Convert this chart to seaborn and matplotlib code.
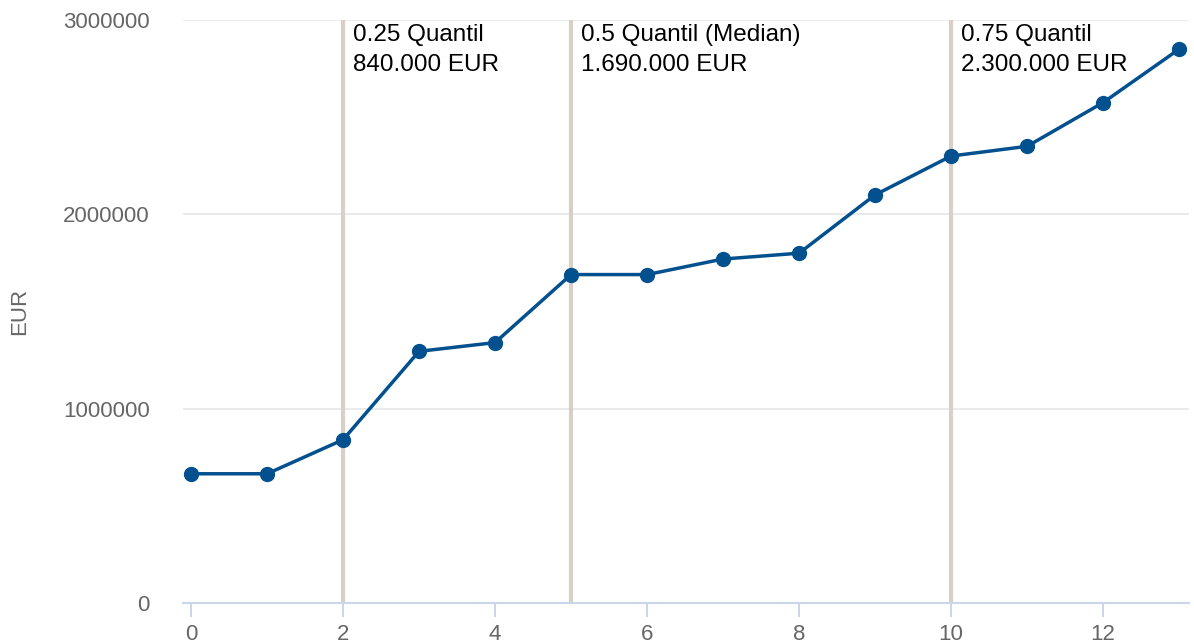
import matplotlib
matplotlib.use("Agg")
import matplotlib.pyplot as plt
import seaborn as sns
import pandas as pd

# data
rank = list(range(14))
eur = [665000, 665000, 840000, 1295000, 1340000, 1690000, 1690000,
       1770000, 1800000, 2100000, 2300000, 2350000, 2575000, 2850000]
q_pos = [2, 5, 10]
q_labels = ["0.25 Quantil\n840.000 EUR",
            "0.5 Quantil (Median)\n1.690.000 EUR",
            "0.75 Quantil\n2.300.000 EUR"]
y_ticks = [0, 1000000, 2000000, 3000000]
x_ticks = [0, 2, 4, 6, 8, 10, 12]

df = pd.DataFrame({"rank": rank, "eur": eur})

sns.set_style("white")
plt.rcParams["font.family"] = ["Liberation Sans", "DejaVu Sans"]

fig = plt.figure(figsize=(11.94, 6.43), dpi=100)
ax = fig.add_axes([0.1533, 0.0622, 0.8425, 0.9067])

for y in y_ticks[1:]:
    ax.axhline(y, color="#e6e6e6", lw=1.2, zorder=0)

for x, lab in zip(q_pos, q_labels):
    ax.axvline(x, color="#d8d0c6", lw=3, zorder=1)
    ax.text(x + 0.13, 2978000, lab, fontsize=17.5, color="black",
            va="top", ha="left", linespacing=1.45)

sns.lineplot(data=df, x="rank", y="eur", ax=ax, color="#03508f", lw=2.5,
             marker="o", markersize=11, markeredgewidth=0, zorder=3)

ax.set_xlim(-0.105, 13.13)
ax.set_ylim(0, 3000000)
ax.set_xticks(x_ticks)
ax.set_yticks(y_ticks)
ax.set_xticklabels([str(v) for v in x_ticks])
ax.set_yticklabels([str(v) for v in y_ticks])
ax.tick_params(axis="x", colors="#ccd6eb", length=10, width=1.5, labelcolor="#666666",
               labelsize=16, pad=5, bottom=True)
ax.tick_params(axis="y", length=0, labelcolor="#666666", labelsize=16, pad=24)
for s in ["top", "right", "left"]:
    ax.spines[s].set_visible(False)
ax.spines["bottom"].set_color("#ccd6eb")
ax.spines["bottom"].set_linewidth(1.5)
ax.set_xlabel("")
ax.set_ylabel("EUR", color="#666666", fontsize=16)
ax.yaxis.set_label_coords(-0.152, 0.5)

fig.savefig("out.png", dpi=100)
